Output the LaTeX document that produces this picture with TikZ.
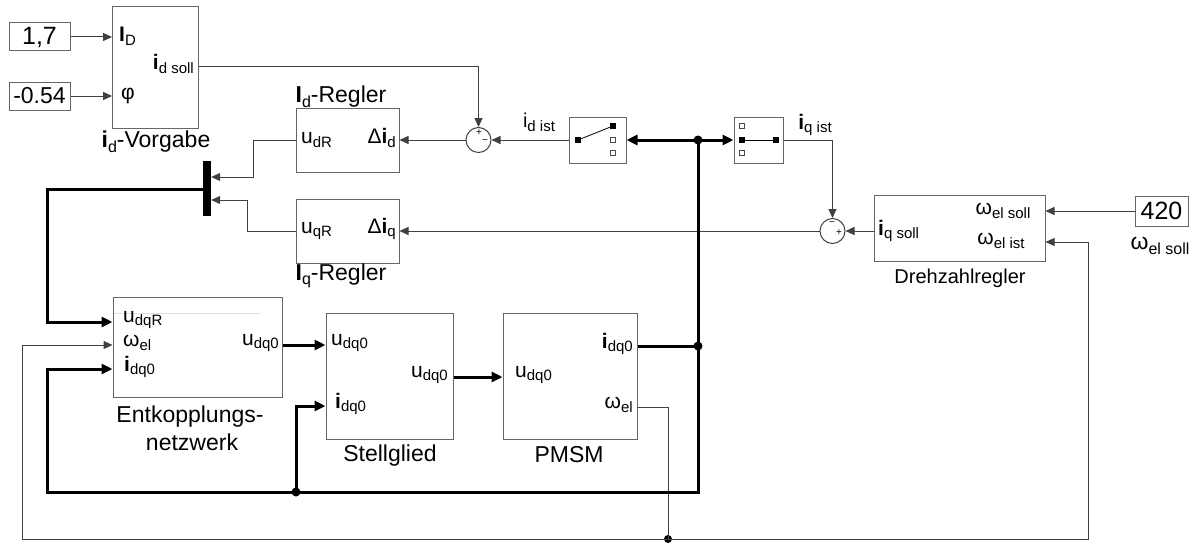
\documentclass[tikz,border=0pt]{standalone}
\usepackage{fontspec}
\setmainfont{Liberation Sans}
\usetikzlibrary{arrows.meta,calc}
\newcommand\sbA[1]{\raisebox{-0.35ex}{\fontsize{15}{15}\selectfont #1}}
\newcommand\sbB[1]{\raisebox{-0.35ex}{\fontsize{16}{16}\selectfont #1}}
\begin{document}
\begin{tikzpicture}[x=1pt,y=-1pt,
  blk/.style={draw=black!60, line width=1pt, rectangle, inner sep=0pt},
  cst/.style={blk, font=\fontsize{25}{26}\selectfont},
  port/.style={inner sep=0pt, font=\fontsize{21}{22}\selectfont},
  lbl/.style={inner sep=0pt, font=\fontsize{23}{24}\selectfont},
  sgn/.style={inner sep=0pt, font=\fontsize{10}{10}\selectfont},
  sigl/.style={draw=black!75, line width=1pt},
  sig/.style={sigl, -{Triangle[length=9pt,width=8pt]}},
  busl/.style={draw=black, line width=3pt},
  bus/.style={busl, -{Triangle[length=11pt,width=10pt]}},
  sumc/.style={circle, draw=black!75, line width=1pt, minimum size=25pt, inner sep=0pt},
  jdot/.style={circle, fill=black, minimum size=9pt, inner sep=0pt},
  swsq/.style={rectangle, inner sep=0pt, minimum size=6pt, line width=0.8pt},
]
\useasboundingbox (0,0) rectangle (1201,543);

% constants
\node[cst, minimum width=61pt, minimum height=28pt] (k17) at (39.5,37) {1,7};
\node[cst, font=\fontsize{23}{24}\selectfont, minimum width=61pt, minimum height=28pt] (k054) at (39.5,96) {-0.54};
\node[cst, minimum width=53pt, minimum height=30pt] (k420) at (1161.5,211) {420};
\node[lbl] (k420l) at (1160,246) {ω\sbB{el soll}};

% i_d-Vorgabe
\node[blk, minimum width=86pt, minimum height=121pt] (vorg) at (155.5,67.5) {};
\node[port, anchor=west] (vID) at (119,36) {\textbf{I}\sbA{D}};
\node[port, anchor=west] (vphi) at (121,96) {φ};
\node[port, anchor=east] (vids) at (194,64) {\textbf{i}\sbA{d soll}};
\node[lbl] (vorgl) at (156,142) {\textbf{i}\sbB{d}-Vorgabe};

% regulators
\node[blk, minimum width=103pt, minimum height=64pt] (idreg) at (347.5,140) {};
\node[port, anchor=west] (idu) at (301,140) {u\sbA{dR}};
\node[port, anchor=east] (idd) at (396,138) {Δ\textbf{i}\sbA{d}};
\node[lbl] (idregl) at (341,97) {\textbf{I}\sbB{d}-Regler};
\node[blk, minimum width=103pt, minimum height=64pt] (iqreg) at (347.5,231) {};
\node[port, anchor=west] (iqu) at (301,231) {u\sbA{qR}};
\node[port, anchor=east] (iqd) at (396,229) {Δ\textbf{i}\sbA{q}};
\node[lbl] (iqregl) at (341,276) {\textbf{I}\sbB{q}-Regler};

% sum points
\node[sumc] (sum1) at (478.5,140) {};
\node[sgn] (s1p) at (479,133) {+};
\node[sgn] (s1m) at (485,142) {−};
\node[sumc] (sum2) at (832.5,231) {};
\node[sgn] (s2m) at (832,224) {−};
\node[sgn] (s2p) at (839,233) {+};

% switches
\node[blk, minimum width=57pt, minimum height=46pt] (sw1) at (597.5,140) {};
\node[swsq, fill=black] (sw1i) at (578,140) {};
\node[swsq, fill=black] (sw1a) at (613,126) {};
\node[swsq, draw=black!70, minimum size=5pt] (sw1b) at (613,140) {};
\node[swsq, draw=black!70, minimum size=5pt] (sw1c) at (613,153) {};
\draw[line width=0.8pt] (sw1i.center) -- (sw1a.center);
\node[blk, minimum width=49pt, minimum height=46pt] (sw2) at (758.5,140) {};
\node[swsq, draw=black!70, minimum size=5pt] (sw2a) at (742,126) {};
\node[swsq, fill=black] (sw2i) at (742,140) {};
\node[swsq, draw=black!70, minimum size=5pt] (sw2c) at (742,153) {};
\node[swsq, fill=black] (sw2o) at (776,140) {};
\draw[line width=0.8pt] (sw2i.center) -- (sw2o.center);
\node[port, font=\fontsize{20}{22}\selectfont] (idist) at (539,122) {i\sbA{d ist}};
\node[port, font=\fontsize{21}{22}\selectfont] (iqist) at (815,125) {\textbf{i}\sbA{q ist}};

% Drehzahlregler
\node[blk, minimum width=171pt, minimum height=66pt] (drz) at (959.5,228) {};
\node[port, anchor=west] (drzi) at (878,231) {\textbf{i}\sbA{q soll}};
\node[port] (drzs) at (1003,211) {ω\sbA{el soll}};
\node[port] (drzt) at (1001,241) {ω\sbA{el ist}};
\node[lbl, font=\fontsize{20}{22}\selectfont] (drzl) at (960,278) {Drehzahlregler};

% mux bar
\node[fill=black, minimum width=8pt, minimum height=55pt, inner sep=0pt] (mux) at (207,188.5) {};

% Entkopplungsnetzwerk
\node[blk, minimum width=169pt, minimum height=100pt] (ent) at (197.5,347) {};
\draw[black!12, line width=1pt] (114,313) -- (260,313);
\node[port, anchor=west] (entu) at (123,320) {u\sbA{dqR}};
\node[port, anchor=west] (entw) at (123,343) {ω\sbA{el}};
\node[port, anchor=west] (enti) at (124,367) {\textbf{i}\sbA{dq0}};
\node[port, anchor=east] (ento) at (279,343) {u\sbA{dq0}};
\node[lbl] (entl1) at (190,417) {Entkopplungs-};
\node[lbl] (entl2) at (192,442) {netzwerk};

% Stellglied
\node[blk, minimum width=127pt, minimum height=126pt] (stell) at (389.5,376) {};
\node[port, anchor=west] (stu) at (331,343) {u\sbA{dq0}};
\node[port, anchor=west] (sti) at (335,404) {\textbf{i}\sbA{dq0}};
\node[port, anchor=east] (sto) at (448,375) {u\sbA{dq0}};
\node[lbl] (stl) at (390,456) {Stellglied};

% PMSM
\node[blk, minimum width=134pt, minimum height=126pt] (pmsm) at (570,376) {};
\node[port, anchor=west] (pmu) at (515,375) {u\sbA{dq0}};
\node[port, anchor=east] (pmi) at (633,344) {\textbf{i}\sbA{dq0}};
\node[port, anchor=east] (pmw) at (633,405) {ω\sbA{el}};
\node[lbl] (pml) at (569,455) {PMSM};

% junction dots
\node[jdot] (j1) at (698,140) {};
\node[jdot] (j2) at (698,346) {};
\node[jdot] (j3) at (296,492) {};
\node[jdot, minimum size=8pt] (j4) at (668,539) {};

% thin signals
\draw[sig] (k17.east) -- (vorg.west |- k17.east);
\draw[sig] (k054.east) -- (vorg.west |- k054.east);
\draw[sig] (vorg.east |- 0,66) -- (478.5,66) -- (sum1);
\draw[sig] (sw1.west) -- (sum1);
\draw[sig] (sum1) -- (idreg.east);
\draw[sig] (idreg.west) -- (253,140) -- (253,177) -- (mux.east |- 0,177);
\draw[sig] (iqreg.west) -- (247,231) -- (247,200) -- (mux.east |- 0,200);
\draw[sig] (sw2.east) -- (832.5,140) -- (sum2);
\draw[sig] (drz.west |- sum2) -- (sum2);
\draw[sig] (sum2) -- (iqreg.east);
\draw[sig] (k420.west) -- (drz.east |- k420.west);
\draw[sigl] (pmsm.east |- 0,407) -- (668,407) -- (j4.center);
\draw[sig] (j4.center) -- (1088,539) -- (1088,242) -- (drz.east |- 0,242);
\draw[sig] (j4.center) -- (22,539) -- (22,345) -- (ent.west |- 0,345);

% thick buses
\draw[bus] (mux.west |- 0,189) -- (47,189) -- (47,322) -- (ent.west |- 0,322);
\draw[bus] (j1.center) -- (sw1.east);
\draw[bus] (j1.center) -- (sw2.west);
\draw[bus] (ent.east |- 0,345) -- (stell.west |- 0,345);
\draw[bus] (stell.east |- 0,377) -- (pmsm.west |- 0,377);
\draw[busl] (pmsm.east |- 0,346) -- (j2.center);
\draw[bus] (j1.center) -- (698,492) -- (47,492) -- (47,369) -- (ent.west |- 0,369);
\draw[bus] (j3.center) -- (296,406) -- (stell.west |- 0,406);
\end{tikzpicture}
\end{document}
